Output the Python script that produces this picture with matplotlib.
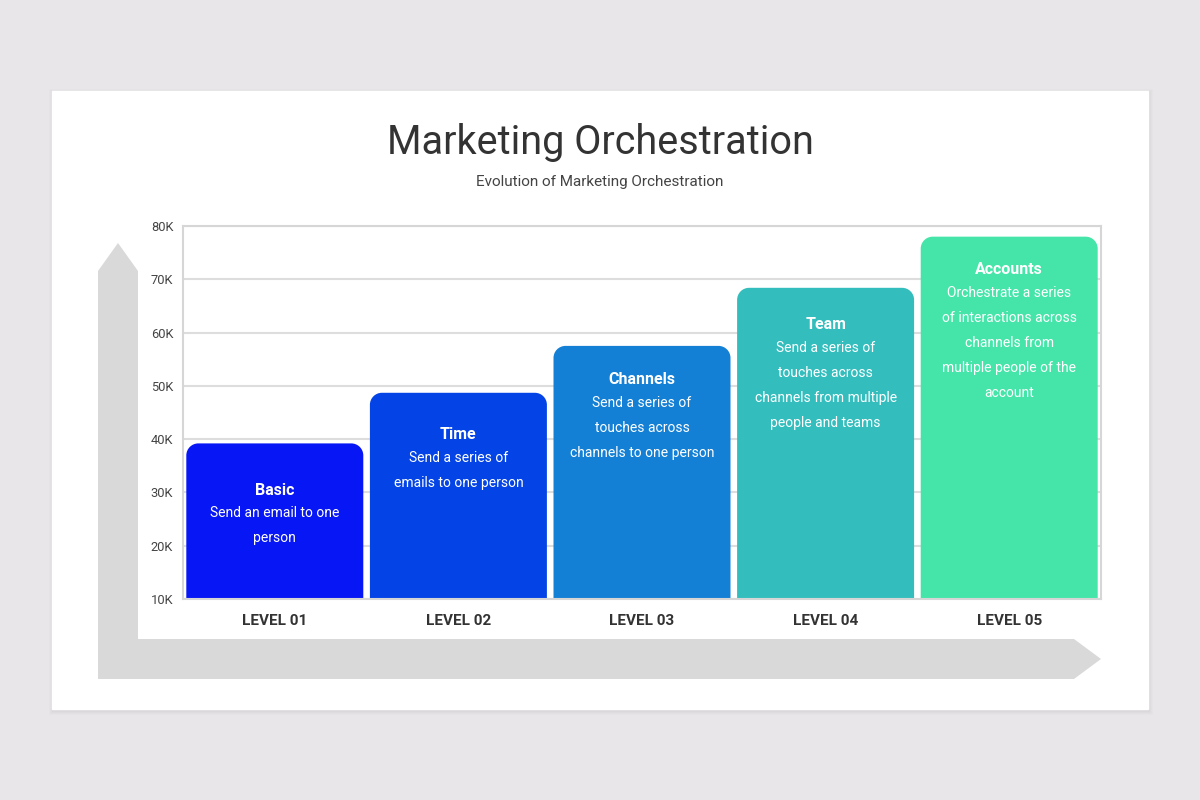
import matplotlib
matplotlib.use("Agg")
import matplotlib.pyplot as plt
from matplotlib.path import Path
from matplotlib.patches import PathPatch, Polygon, Rectangle

plt.rcParams["font.family"] = ["Roboto", "DejaVu Sans"]

# Data
levels = ["LEVEL 01", "LEVEL 02", "LEVEL 03", "LEVEL 04", "LEVEL 05"]
values_k = [39.2, 48.7, 57.5, 68.4, 78.0]
stage_names = ["Basic", "Time", "Channels", "Team", "Accounts"]
stage_desc = [
    "Send an email to one\nperson",
    "Send a series of\nemails to one person",
    "Send a series of\ntouches across\nchannels to one person",
    "Send a series of\ntouches across\nchannels from multiple\npeople and teams",
    "Orchestrate a series\nof interactions across\nchannels from\nmultiple people of the\naccount",
]
yticks_k = [10, 20, 30, 40, 50, 60, 70, 80]
ytick_labels = ["10K", "20K", "30K", "40K", "50K", "60K", "70K", "80K"]

bar_colors = ["#0716F5", "#0443E5", "#1480D5", "#33BDBD", "#45E5A9"]
title_drop_px = [47, 42, 34, 37, 33]   # bar top -> stage name, pixels

W, H = 1200, 800
fig = plt.figure(figsize=(12, 8), dpi=100)
fig.patch.set_facecolor("#E8E6E8")

# background layer in pixel coordinates
bg = fig.add_axes([0, 0, 1, 1])
bg.set_xlim(0, W)
bg.set_ylim(H, 0)
bg.axis("off")
# soft card shadow
for i, a in enumerate([0.035, 0.04, 0.05, 0.06]):
    d = 4 - i
    bg.add_patch(Rectangle((52 - d + 1, 91 - d + 2), 1096 + 2 * d, 618 + 2 * d,
                           color="#9A9A9A", alpha=a, lw=0, zorder=0))
bg.add_patch(Rectangle((52, 91), 1096, 618, color="white", zorder=1))
bg.add_patch(Polygon([(98, 679), (98, 271), (118, 243), (138, 271), (138, 639),
                      (1074, 639), (1101, 659), (1074, 679)],
                     closed=True, color="#D9D9D9", lw=0, zorder=2))
bg.add_patch(Rectangle((138, 226), 990, 413, color="white", lw=0, zorder=2.5))

bg.text(600, 142, "Marketing Orchestration", ha="center", va="center",
        fontsize=28.5, color="#333333", zorder=3)
bg.text(600, 182, "Evolution of Marketing Orchestration", ha="center", va="center",
        fontsize=11, color="#444444", zorder=3)

# chart
x0, x1, y0, y1 = 183, 1101, 226, 599
ax = fig.add_axes([x0 / W, 1 - y1 / H, (x1 - x0) / W, (y1 - y0) / H])
ax.set_facecolor("white")
ax.set_xlim(-0.5, len(levels) - 0.5)
ax.set_ylim(10, 80)
ax.set_yticks(yticks_k)
ax.set_yticklabels(ytick_labels)
ax.set_xticks(range(len(levels)))
ax.set_xticklabels(levels, fontsize=11, fontweight="bold", color="#333333")
ax.tick_params(axis="y", length=0, pad=7, labelsize=9.3, labelcolor="#444444")
ax.tick_params(axis="x", length=0, pad=11)
ax.grid(axis="y", color="#DDDDDD", lw=1.5)
ax.set_axisbelow(True)
for s in ax.spines.values():
    s.set_color("#D6D6D6")
    s.set_linewidth(1.5)

bars = ax.bar(range(len(levels)), values_k, width=0.964, color=bar_colors, zorder=2)

# replace the square tops by rounded ones (radius in pixels)
r_px = 12
px_per_x = (x1 - x0) / len(levels)
px_per_y = (y1 - y0) / 70.0
rx, ry = r_px / px_per_x, r_px / px_per_y
k = 0.5523
for b in bars:
    bx, by = b.get_x(), b.get_y()
    bw, bh = b.get_width(), b.get_height()
    top, right = by + bh, bx + bw
    verts = [
        (bx, by), (bx, top - ry),
        (bx, top - ry + k * ry), (bx + rx - k * rx, top), (bx + rx, top),
        (right - rx, top),
        (right - rx + k * rx, top), (right, top - ry + k * ry), (right, top - ry),
        (right, by), (bx, by),
    ]
    codes = [Path.MOVETO, Path.LINETO,
             Path.CURVE4, Path.CURVE4, Path.CURVE4,
             Path.LINETO,
             Path.CURVE4, Path.CURVE4, Path.CURVE4,
             Path.LINETO, Path.CLOSEPOLY]
    ax.add_patch(PathPatch(Path(verts, codes), facecolor=b.get_facecolor(),
                           edgecolor="none", zorder=2))
    b.set_visible(False)

for i, b in enumerate(bars):
    cx = b.get_x() + b.get_width() / 2
    top = b.get_height()
    drop = title_drop_px[i] * 0.72
    ax.annotate(stage_names[i], (cx, top), xytext=(0, -drop), textcoords="offset points",
                ha="center", va="center", fontsize=11.5, fontweight="bold",
                color="white", zorder=3)
    ax.annotate(stage_desc[i], (cx, top), xytext=(0, -drop - 11.5), textcoords="offset points",
                ha="center", va="top", fontsize=10, color="white",
                linespacing=2.0, zorder=3)

fig.savefig("out.png", dpi=100, facecolor=fig.get_facecolor())
